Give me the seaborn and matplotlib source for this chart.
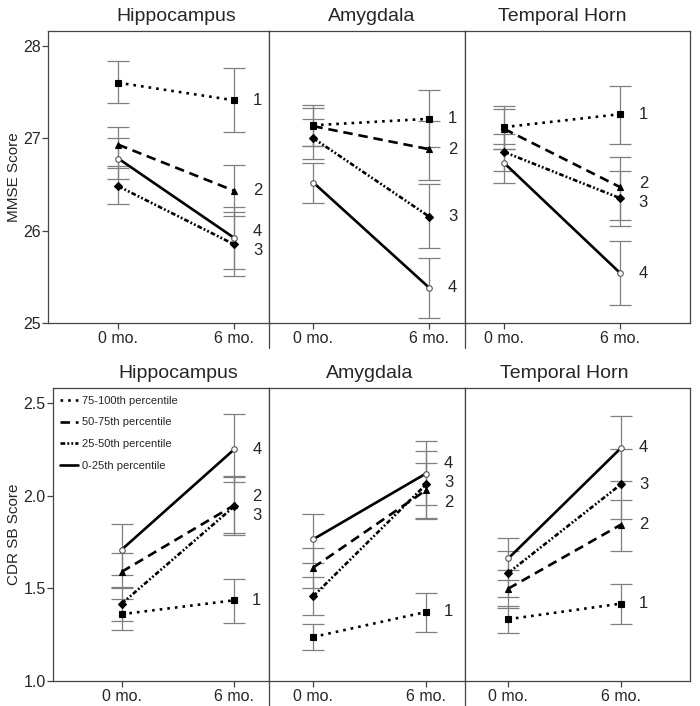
import numpy as np
import pandas as pd
import matplotlib
matplotlib.use("Agg")
import matplotlib.pyplot as plt
import seaborn as sns
from matplotlib.lines import Line2D

sns.set_style("white")
plt.rcParams["font.family"] = ["Liberation Sans", "DejaVu Sans"]

regions = ["Hippocampus", "Amygdala", "Temporal Horn"]
time_labels = ["0 mo.", "6 mo."]
groups = ["1", "2", "3", "4"]
legend_labels = ["75-100th percentile", "50-75th percentile",
                 "25-50th percentile", "0-25th percentile"]

# MMSE score, rows = group 1..4, columns = 0 mo., 6 mo.
mmse_hippo_mean = [[27.60, 27.41], [26.93, 26.43], [26.48, 25.85], [26.78, 25.92]]
mmse_hippo_lo = [[27.38, 27.07], [26.70, 26.16], [26.29, 25.51], [26.56, 25.58]]
mmse_hippo_hi = [[27.83, 27.76], [27.12, 26.71], [26.68, 26.20], [27.00, 26.25]]

mmse_amyg_mean = [[27.14, 27.21], [27.13, 26.88], [27.00, 26.15], [26.52, 25.38]]
mmse_amyg_lo = [[26.92, 26.91], [26.92, 26.55], [26.78, 25.81], [26.30, 25.05]]
mmse_amyg_hi = [[27.36, 27.52], [27.33, 27.19], [27.21, 26.50], [26.73, 25.70]]

mmse_temp_mean = [[27.12, 27.26], [27.10, 26.47], [26.85, 26.35], [26.73, 25.54]]
mmse_temp_lo = [[26.88, 26.94], [26.88, 26.12], [26.65, 26.05], [26.51, 25.20]]
mmse_temp_hi = [[27.35, 27.57], [27.32, 26.80], [27.04, 26.65], [26.94, 25.89]]

# CDR sum of boxes score
cdr_hippo_mean = [[1.361, 1.436], [1.590, 1.950], [1.418, 1.944], [1.710, 2.252]]
cdr_hippo_lo = [[1.274, 1.314], [1.500, 1.800], [1.325, 1.788], [1.571, 2.076]]
cdr_hippo_hi = [[1.445, 1.553], [1.689, 2.108], [1.508, 2.100], [1.847, 2.442]]

cdr_amyg_mean = [[1.238, 1.373], [1.613, 2.031], [1.458, 2.062], [1.766, 2.121]]
cdr_amyg_lo = [[1.166, 1.265], [1.505, 1.873], [1.355, 1.878], [1.635, 1.950]]
cdr_amyg_hi = [[1.306, 1.478], [1.716, 2.179], [1.562, 2.242], [1.900, 2.296]]

cdr_temp_mean = [[1.334, 1.418], [1.499, 1.845], [1.584, 2.063], [1.662, 2.259]]
cdr_temp_lo = [[1.261, 1.306], [1.395, 1.701], [1.454, 1.874], [1.544, 2.079]]
cdr_temp_hi = [[1.406, 1.526], [1.599, 1.977], [1.703, 2.256], [1.775, 2.432]]

mmse_panels = [(mmse_hippo_mean, mmse_hippo_lo, mmse_hippo_hi),
               (mmse_amyg_mean, mmse_amyg_lo, mmse_amyg_hi),
               (mmse_temp_mean, mmse_temp_lo, mmse_temp_hi)]
cdr_panels = [(cdr_hippo_mean, cdr_hippo_lo, cdr_hippo_hi),
              (cdr_amyg_mean, cdr_amyg_lo, cdr_amyg_hi),
              (cdr_temp_mean, cdr_temp_lo, cdr_temp_hi)]

# styles
line_styles = {"1": (0, (1, 1.9)), "2": (0, (3.6, 2.2)),
               "3": (0, (1.8, 0.8, 0.7, 0.8, 0.7, 0.8)), "4": "-"}
markers = {"1": "s", "2": "^", "3": "D", "4": "o"}
marker_sizes = {"1": 4.5, "2": 5, "3": 4, "4": 4}
spine_col = "#444444"
err_col = "#7f7f7f"

W, H = 700, 706


def rect(l, r, t, b):
    return [l / W, 1 - b / H, (r - l) / W, (b - t) / H]


def spread(vals, gap):
    order = np.argsort(vals)
    p = np.array(vals, dtype=float)[order]
    for _ in range(200):
        for i in range(len(p) - 1):
            d = p[i + 1] - p[i]
            if d < gap:
                s = (gap - d) / 2
                p[i] -= s
                p[i + 1] += s
    out = np.empty_like(p)
    out[order] = p
    return out


fig = plt.figure(figsize=(7, 7.06), dpi=100)

rows = [
    dict(panels=mmse_panels, cols=[(48.3, 269), (269, 465), (465, 690)],
         tb=(31, 323), ylim=(25, 28.16), yticks=[25, 26, 27, 28],
         yfmt="{:.0f}", ylabel="MMSE Score",
         xlims=[(-0.603, 1.299), (-0.382, 1.307), (-0.339, 1.602)]),
    dict(panels=cdr_panels, cols=[(52.7, 269), (269, 465), (465, 690)],
         tb=(388, 681), ylim=(1.0, 2.583), yticks=[1.0, 1.5, 2.0, 2.5],
         yfmt="{:.1f}", ylabel="CDR SB Score",
         xlims=[(-0.613, 1.308), (-0.393, 1.346), (-0.384, 1.612)]),
]

for r, row in enumerate(rows):
    for c, (mean, lo, hi) in enumerate(row["panels"]):
        l, rr = row["cols"][c]
        ax = fig.add_axes(rect(l, rr, row["tb"][0], row["tb"][1]))

        for g, grp in enumerate(groups):
            df = pd.DataFrame({"time": [0, 1], "score": mean[g]})
            m = np.array(mean[g])
            ax.errorbar([0, 1], m, yerr=[m - np.array(lo[g]), np.array(hi[g]) - m],
                        fmt="none", ecolor=err_col, elinewidth=0.9,
                        capsize=8, capthick=0.9, zorder=1)
            open_mk = grp == "4"
            sns.lineplot(data=df, x="time", y="score", ax=ax, color="black",
                         linestyle=line_styles[grp], linewidth=1.9,
                         marker=markers[grp], markersize=marker_sizes[grp],
                         markerfacecolor="white" if open_mk else "black",
                         markeredgecolor="#555555" if open_mk else "black",
                         markeredgewidth=0.8, zorder=3)

        # group numbers right of the 6 mo. point
        ylo, yhi = row["ylim"]
        last = [mean[g][1] for g in range(len(groups))]
        ypos = spread(last, 0.066 * (yhi - ylo))
        for g, grp in enumerate(groups):
            ax.text(1.2, ypos[g], grp, ha="center", va="center", fontsize=12)

        ax.set_xlim(*row["xlims"][c])
        ax.set_ylim(*row["ylim"])
        ax.set_xticks([0, 1])
        ax.set_xticklabels(time_labels, fontsize=11.5)
        ax.set_xlabel("")
        ax.tick_params(axis="x", direction="out", length=4, width=0.9,
                       color=spine_col, pad=2, bottom=True)
        if c == 0:
            ax.set_yticks(row["yticks"])
            ax.set_yticklabels([row["yfmt"].format(v) for v in row["yticks"]],
                               fontsize=11.5)
            ax.tick_params(axis="y", direction="out", length=4, width=0.9,
                           color=spine_col, pad=1, left=True)
            ax.set_ylabel(row["ylabel"], fontsize=11, labelpad=2)
        else:
            ax.set_yticks(row["yticks"])
            ax.tick_params(axis="y", left=False, labelleft=False)
            ax.set_ylabel("")
        for s in ax.spines.values():
            s.set_color(spine_col)
            s.set_linewidth(0.9)
        if c < 2:
            ax.plot([1, 1], [0, -0.085], transform=ax.transAxes,
                    clip_on=False, color=spine_col, lw=0.9)

        ax.text(0.5, 1.035, regions[c], transform=ax.get_xaxis_transform(),
                ha="center", va="baseline", fontsize=14)

        if r == 1 and c == 0:
            handles = [Line2D([], [], color="black", linestyle=line_styles[g],
                              linewidth=1.9) for g in groups]
            ax.legend(handles, legend_labels, loc="upper left",
                      bbox_to_anchor=(0.0, 1.0), frameon=False, fontsize=8,
                      handlelength=1.6, handletextpad=0.3, labelspacing=1.05,
                      borderaxespad=0.4, borderpad=0.3)

fig.savefig("out.png", dpi=100)
